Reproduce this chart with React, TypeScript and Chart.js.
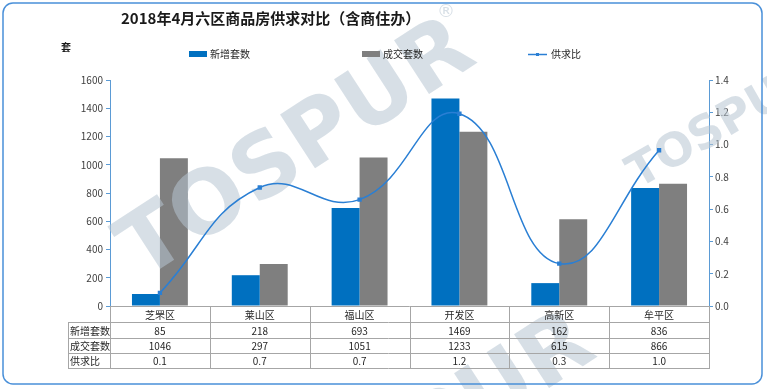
import React, { useEffect, useRef } from 'react';
import { Chart, registerables } from 'chart.js';

Chart.register(...registerables);

const titleText = '2018年4月六区商品房供求对比（含商住办）';
const unitLabel = '套';
const categories = ['芝罘区', '莱山区', '福山区', '开发区', '高新区', '牟平区'];
const newUnits = [85, 218, 693, 1469, 162, 836];
const soldUnits = [1046, 297, 1051, 1233, 615, 866];
const ratio = [0.081, 0.734, 0.659, 1.191, 0.263, 0.965];
const seriesNames = ['新增套数', '成交套数', '供求比'];
const rowHeaders = ['新增套数', '成交套数', '供求比'];
const leftMax = 1600;
const leftStep = 200;
const rightMax = 1.4;
const rightStep = 0.2;

const FONT = '"Noto Sans CJK SC", "Noto Sans", sans-serif';
const BLUE = '#0070c0';
const GRAY = '#7f7f7f';
const LINE = '#2a7fd4';
const AXIS = '#5b9bd5';
const GRID = '#a6a6a6';
const TEXT = '#262626';

function drawWatermark(ctx: CanvasRenderingContext2D) {
  const fill = 'rgba(183,196,209,0.55)';
  const one = (cx: number, cy: number, angle: number, size: number) => {
    ctx.save();
    ctx.translate(cx, cy);
    ctx.rotate((angle * Math.PI) / 180);
    ctx.fillStyle = fill;
    ctx.font = `bold ${size}px "DejaVu Sans", sans-serif`;
    ctx.textAlign = 'center';
    ctx.textBaseline = 'middle';
    ctx.fillText('TOSPUR', 0, 0);
    ctx.restore();
  };
  one(298, 152, -33, 88);
  one(418, 446, -33, 88);
  one(723, 126, -30, 46);
  ctx.save();
  ctx.fillStyle = fill;
  ctx.font = `18px "DejaVu Sans", sans-serif`;
  ctx.textAlign = 'center';
  ctx.textBaseline = 'middle';
  ctx.fillText('®', 446, 12);
  ctx.restore();
}

const decorPlugin = {
  id: 'decor',
  beforeDatasetDraw(chart: any, args: any) {
    if (args.meta.type === 'line') drawWatermark(chart.ctx);
  },
  afterDraw(chart: any) {
    const ctx: CanvasRenderingContext2D = chart.ctx;
    const area = chart.chartArea;
    const xs = chart.scales.x;
    ctx.save();

    // title + unit
    ctx.fillStyle = '#1a1a1a';
    ctx.textAlign = 'left';
    ctx.textBaseline = 'middle';
    ctx.font = `bold 15px ${FONT}`;
    ctx.fillText(titleText, 121, 18);
    ctx.font = `bold 10px ${FONT}`;
    ctx.fillText(unitLabel, 61, 47);

    // legend
    const ds = chart.data.datasets;
    const legY = 54;
    ctx.font = `10px ${FONT}`;
    ctx.fillStyle = ds[0].backgroundColor;
    ctx.fillRect(189, legY - 3, 18, 6);
    ctx.fillStyle = TEXT;
    ctx.fillText(ds[0].label, 210, legY);
    ctx.fillStyle = ds[1].backgroundColor;
    ctx.fillRect(362, legY - 3, 18, 6);
    ctx.fillStyle = TEXT;
    ctx.fillText(ds[1].label, 383, legY);
    ctx.strokeStyle = ds[2].borderColor;
    ctx.lineWidth = 1.5;
    ctx.beginPath();
    ctx.moveTo(528, legY + 0.5);
    ctx.lineTo(547, legY + 0.5);
    ctx.stroke();
    ctx.fillStyle = ds[2].borderColor;
    ctx.fillRect(536, legY - 1, 3, 3);
    ctx.fillStyle = TEXT;
    ctx.fillText(ds[2].label, 551, legY);

    // data table
    const n = categories.length;
    const half = (xs.getPixelForValue(1) - xs.getPixelForValue(0)) / 2;
    const left = Math.round(area.left);
    const right = Math.round(area.right);
    const headLeft = 68;
    const rows = [Math.round(area.bottom), 322, 338, 353, 368];
    ctx.strokeStyle = GRID;
    ctx.lineWidth = 1;
    ctx.beginPath();
    rows.forEach((y, i) => {
      ctx.moveTo(i === 0 ? left : headLeft, y + 0.5);
      ctx.lineTo(right, y + 0.5);
    });
    ctx.moveTo(headLeft + 0.5, rows[1]);
    ctx.lineTo(headLeft + 0.5, rows[4] + 1);
    ctx.moveTo(left + 0.5, rows[0]);
    ctx.lineTo(left + 0.5, rows[4] + 1);
    for (let i = 0; i < n; i++) {
      const bx = Math.round(xs.getPixelForValue(i) + half) + 0.5;
      ctx.moveTo(bx, rows[0]);
      ctx.lineTo(bx, rows[4] + 1);
    }
    ctx.stroke();

    ctx.font = `10px ${FONT}`;
    ctx.fillStyle = TEXT;
    ctx.textAlign = 'left';
    rowHeaders.forEach((h, r) => {
      ctx.fillText(h, headLeft + 2, (rows[r + 1] + rows[r + 2]) / 2 + 1);
    });
    ctx.textAlign = 'center';
    const rowVals = [
      newUnits.map((v) => String(v)),
      soldUnits.map((v) => String(v)),
      ratio.map((v) => v.toFixed(1)),
    ];
    for (let i = 0; i < n; i++) {
      const cx = xs.getPixelForValue(i);
      ctx.fillText(categories[i], cx, (rows[0] + rows[1]) / 2 + 1);
      rowVals.forEach((vals, r) => {
        ctx.fillText(vals[i], cx, (rows[r + 1] + rows[r + 2]) / 2 + 1);
      });
    }

    // outer rounded border
    ctx.strokeStyle = '#4a90d9';
    ctx.lineWidth = 1.5;
    ctx.beginPath();
    (ctx as any).roundRect(3, 3, 759, 381, 10);
    ctx.stroke();
    ctx.restore();
  },
};

export default function App() {
  const ref = useRef<HTMLCanvasElement | null>(null);
  useEffect(() => {
    if (!ref.current) return;
    const chart = new Chart(ref.current, {
      type: 'bar',
      data: {
        labels: categories,
        datasets: [
          {
            type: 'bar',
            label: seriesNames[0],
            data: newUnits,
            backgroundColor: BLUE,
            yAxisID: 'y',
            order: 1,
            categoryPercentage: 0.56,
            barPercentage: 1,
          },
          {
            type: 'bar',
            label: seriesNames[1],
            data: soldUnits,
            backgroundColor: GRAY,
            yAxisID: 'y',
            order: 1,
            categoryPercentage: 0.56,
            barPercentage: 1,
          },
          {
            type: 'line',
            label: seriesNames[2],
            data: ratio,
            borderColor: LINE,
            backgroundColor: LINE,
            borderWidth: 1.5,
            pointRadius: 2,
            pointStyle: 'rect',
            tension: 0.45,
            yAxisID: 'y1',
            order: 0,
          } as any,
        ],
      },
      options: {
        responsive: false,
        animation: false,
        devicePixelRatio: 1,
        layout: { padding: { top: 80, bottom: 83, left: 0, right: 0 } },
        plugins: {
          legend: { display: false },
          title: { display: false },
          tooltip: { enabled: false },
        },
        scales: {
          x: { display: false, offset: true, grid: { display: false } },
          y: {
            position: 'left',
            min: 0,
            max: leftMax,
            ticks: {
              stepSize: leftStep,
              padding: 3,
              color: '#404040',
              font: { size: 10, family: FONT },
              callback: (v: any) => String(v),
            },
            grid: { display: true, drawOnChartArea: false, drawTicks: true, tickLength: 4, color: AXIS },
            border: { display: true, color: AXIS, width: 1 },
            afterFit: (s: any) => {
              s.width = 110;
            },
          },
          y1: {
            position: 'right',
            min: 0,
            max: rightMax,
            ticks: {
              stepSize: rightStep,
              padding: 2,
              color: '#404040',
              font: { size: 10, family: FONT },
              callback: (v: any) => Number(v).toFixed(1),
            },
            grid: { display: true, drawOnChartArea: false, drawTicks: true, tickLength: 4, color: AXIS },
            border: { display: true, color: AXIS, width: 1 },
            afterFit: (s: any) => {
              s.width = 58;
            },
          },
        },
      } as any,
      plugins: [decorPlugin],
    });
    return () => chart.destroy();
  }, []);
  return (
    <div style={{ position: 'fixed', left: 0, top: 0, width: 767, height: 389, background: '#fff' }}>
      <canvas ref={ref} width={767} height={389} style={{ display: 'block' }} />
    </div>
  );
}
